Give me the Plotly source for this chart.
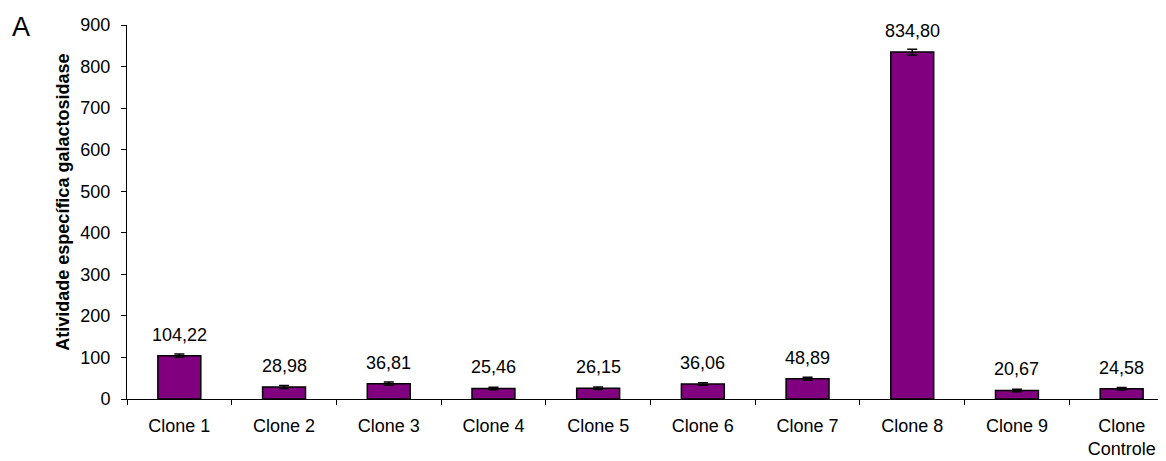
import plotly.graph_objects as go

categories = ["Clone 1", "Clone 2", "Clone 3", "Clone 4", "Clone 5", "Clone 6",
              "Clone 7", "Clone 8", "Clone 9", "Clone<br>Controle"]
values = [104.22, 28.98, 36.81, 25.46, 26.15, 36.06, 48.89, 834.80, 20.67, 24.58]
errors = [4, 3.5, 4, 3, 3, 3, 3.5, 7, 3, 3]
labels = ["104,22", "28,98", "36,81", "25,46", "26,15", "36,06", "48,89", "834,80", "20,67", "24,58"]
y_ticks = [0, 100, 200, 300, 400, 500, 600, 700, 800, 900]
y_title = "<b>Atividade específica galactosidase</b>"

FONT = "Liberation Sans, Arial, sans-serif"

fig = go.Figure()
fig.add_trace(go.Bar(
    x=categories, y=values, width=0.41,
    marker=dict(color="#800080", line=dict(color="#000000", width=1.5)),
    error_y=dict(type="data", array=errors, visible=True, color="#000000",
                 thickness=1.5, width=5),
    hoverinfo="skip",
))

for c, v, e, t in zip(categories, values, errors, labels):
    fig.add_annotation(x=c, y=v, text=t, showarrow=False, yanchor="middle",
                       yshift=21, font=dict(size=18, color="#000000", family=FONT))

fig.add_annotation(xref="paper", yref="paper", x=-0.1012, y=0.995, xanchor="center",
                   yanchor="middle", text="A", showarrow=False,
                   font=dict(size=27, color="#000000", family=FONT))

fig.add_annotation(xref="paper", yref="paper", x=-0.0611, y=0.525, xanchor="center",
                   yanchor="middle", text=y_title, textangle=-90, showarrow=False,
                   font=dict(size=18, color="#000000", family=FONT))

fig.update_layout(
    width=1166, height=461,
    margin=dict(l=119, r=0, t=17, b=70, autoexpand=False),
    paper_bgcolor="white", plot_bgcolor="white",
    showlegend=False,
    font=dict(family=FONT, size=18, color="#000000"),
    xaxis=dict(
        range=[-0.5, 9.5], showline=True, linecolor="#000000", linewidth=1,
        ticks="outside", tickson="boundaries", ticklen=5, tickcolor="#000000",
        showgrid=False, zeroline=False, tickfont=dict(size=18), automargin=False,
        ticklabelstandoff=10,
    ),
    yaxis=dict(
        range=[0, 900], tickvals=y_ticks, showline=True, linecolor="#000000",
        linewidth=1, ticks="outside", ticklen=5, tickcolor="#000000",
        showgrid=False, zeroline=False, tickfont=dict(size=18), automargin=False,
        ticklabelstandoff=7,
    ),
)

fig.write_html("out.html")
